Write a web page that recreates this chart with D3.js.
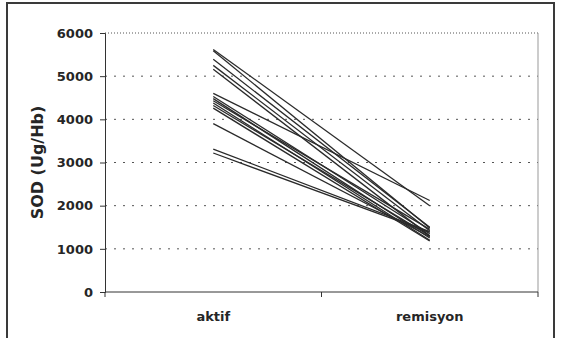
<!DOCTYPE html>
<html>
<head>
<meta charset="utf-8">
<script src="https://cdn.jsdelivr.net/npm/d3@7"></script>
<style>
  body { margin: 0; background: #fff; }
  text { font-family: "DejaVu Sans", sans-serif; font-weight: bold; fill: #262626; }
</style>
</head>
<body>
<div id="chart"></div>
<script>
// Categories and per-patient values
const categories = ["aktif", "remisyon"];
const aktif =    [5620, 5590, 5390, 5250, 5160, 4600, 4530, 4480, 4430, 4380, 4320, 4260, 3900, 3310, 3220];
const remisyon = [2000, 1480, 1500, 1420, 1300, 2120, 1350, 1250, 1450, 1200, 1300, 1180, 1280, 1400, 1380];
const yTicks = [0, 1000, 2000, 3000, 4000, 5000, 6000];

const W = 565, H = 338;
const margin = {top: 33, right: 27, bottom: 46, left: 105},
      width = W - margin.left - margin.right,
      height = H - margin.top - margin.bottom;

const svg = d3.select("#chart")
    .append("svg")
    .attr("width", W)
    .attr("height", H);

// outer frame
svg.append("path")
    .attr("d", `M7,${H} V3 H554 V${H}`)
    .attr("fill", "none")
    .attr("stroke", "#3a3a3a")
    .attr("stroke-width", 2);

const g = svg.append("g")
    .attr("transform", `translate(${margin.left},${margin.top})`);

const x = d3.scaleBand()
    .domain(categories)
    .range([0, width]);

const y = d3.scaleLinear()
    .domain([0, 6000])
    .range([height, 0]);

// dotted gridlines
g.selectAll(".grid")
    .data(yTicks.filter(d => d > 0))
    .enter()
    .append("line")
    .attr("x1", 0)
    .attr("x2", width)
    .attr("y1", d => y(d))
    .attr("y2", d => y(d))
    .attr("stroke", "#555")
    .attr("stroke-width", 1)
    .attr("stroke-dasharray", d => d === 6000 ? "1,2" : "2,7");

// right border
g.append("line")
    .attr("x1", width).attr("x2", width)
    .attr("y1", 0).attr("y2", height)
    .attr("stroke", "#999");

// y axis
const yAxis = g.append("g")
    .call(d3.axisLeft(y).tickValues(yTicks).tickFormat(d3.format("d")).tickSize(5).tickPadding(7));
yAxis.selectAll("text").style("font-size", "13px").style("font-family", "DejaVu Sans").attr("font-weight", "bold");
yAxis.select(".domain").attr("stroke", "#333");
yAxis.selectAll("line").attr("stroke", "#333");

// x axis: ticks at band edges
const xAxis = g.append("g")
    .attr("transform", `translate(0,${height})`);
xAxis.append("line")
    .attr("x1", 0).attr("x2", width)
    .attr("stroke", "#333");
xAxis.selectAll(".tk")
    .data([0, width / 2, width])
    .enter()
    .append("line")
    .attr("x1", d => d).attr("x2", d => d)
    .attr("y1", 0).attr("y2", 5)
    .attr("stroke", "#333");
xAxis.selectAll(".lbl")
    .data(categories)
    .enter()
    .append("text")
    .attr("x", d => x(d) + x.bandwidth() / 2)
    .attr("y", 29)
    .attr("text-anchor", "middle")
    .style("font-size", "13px")
    .text(d => d);

// patient lines
const line = d3.line()
    .x(d => x(d.cat) + x.bandwidth() / 2)
    .y(d => y(d.v));

g.selectAll(".pt")
    .data(aktif.map((a, i) => [{cat: categories[0], v: a}, {cat: categories[1], v: remisyon[i]}]))
    .enter()
    .append("path")
    .attr("d", line)
    .attr("fill", "none")
    .attr("stroke", "#2a2a2a")
    .attr("stroke-width", 1.3);

// y axis title
svg.append("text")
    .attr("transform", `translate(43,${margin.top + height / 2}) rotate(-90)`)
    .attr("text-anchor", "middle")
    .style("font-size", "16px")
    .text("SOD (Ug/Hb)");
</script>
</body>
</html>
